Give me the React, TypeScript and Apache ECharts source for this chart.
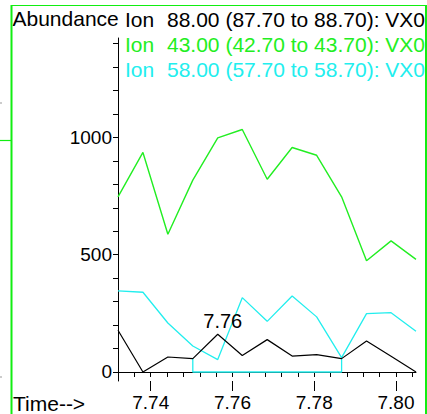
import React, { useEffect, useRef } from 'react';
import * as echarts from 'echarts';

const times = [7.7320, 7.7381, 7.7442, 7.7503, 7.7564, 7.7624, 7.7685, 7.7746, 7.7806, 7.7867, 7.7928, 7.7988, 7.8049];
const ion88 = [178, 0, 64, 57, 161, 70, 138, 68, 74, 57, 132, 67, 0];
const ion43 = [747, 936, 587, 818, 998, 1034, 822, 957, 924, 747, 474, 559, 480];
const ion58 = [346, 340, 209, 111, 53, 317, 216, 324, 235, 61, 249, 253, 174];

const baselineTimes = [7.7503, 7.7503, 7.7867, 7.7867];
const baselineValues = [57, 0, 0, 57];

const peakTime = 7.7564;
const peakValue = 161;
const peakLabel = '7.76';

const xLabelValues = [7.74, 7.76, 7.78, 7.80];
const xMinorTicks = [7.732, 7.736, 7.740, 7.744, 7.748, 7.752, 7.756, 7.760, 7.764, 7.768, 7.772, 7.776, 7.780, 7.784, 7.788, 7.792, 7.796, 7.800, 7.804];
const yLabelValues = [0, 500, 1000];
const yTicks = [0, 100, 200, 300, 400, 500, 600, 700, 800, 900, 1000, 1100, 1200, 1300, 1400];

const legendNames = ['88.00 (87.70 to 88.70): VX0', '43.00 (42.70 to 43.70): VX0', '58.00 (57.70 to 58.70): VX0'];

const BLACK = '#000000';
const GREEN = '#22ee22';
const CYAN = '#22eeee';
const FONT = '"Liberation Sans", Arial, sans-serif';

export default function App() {
  const ref = useRef<HTMLDivElement>(null);
  useEffect(() => {
    const chart = echarts.init(ref.current!, null, { renderer: 'svg' });
    const pairs = (vals: number[]) => times.map((t, i) => [t, vals[i]]);
    const legendColors = [BLACK, GREEN, CYAN];
    const legendY = [19.5, 44.5, 69];
    const thin = { stroke: '#11ee11', lineWidth: 1.2 };
    const thick = { stroke: '#11ee11', lineWidth: 2 };
    const graphics: any[] = [
      { type: 'line', z: 100, shape: { x1: 11.5, y1: 5.5, x2: 426, y2: 5.5 }, style: thin },
      { type: 'line', z: 100, shape: { x1: 11.5, y1: 5, x2: 11.5, y2: 414 }, style: thick },
      { type: 'line', z: 100, shape: { x1: 426, y1: 5, x2: 426, y2: 414 }, style: thick },
      { type: 'line', z: 100, shape: { x1: 0, y1: 140.5, x2: 11, y2: 140.5 }, style: thin },
      { type: 'rect', shape: { x: 0, y: 102.5, width: 2, height: 1 }, style: { fill: '#999' } },
      { type: 'rect', shape: { x: 0, y: 376.5, width: 2, height: 1 }, style: { fill: '#999' } },
      { type: 'text', style: { text: 'Abundance', x: 12.5, y: 18, fill: BLACK, fontSize: 21, fontFamily: FONT, verticalAlign: 'middle', align: 'left' } },
      { type: 'text', style: { text: 'Time-->', x: 13, y: 403, fill: BLACK, fontSize: 21, fontFamily: FONT, verticalAlign: 'middle', align: 'left' } },
    ];
    legendNames.forEach((name, i) => {
      graphics.push({ type: 'text', style: { text: 'Ion', x: 125, y: legendY[i], fill: legendColors[i], fontSize: 21, fontFamily: FONT, verticalAlign: 'middle', align: 'left' } });
      graphics.push({ type: 'text', style: { text: name, x: 167, y: legendY[i], fill: legendColors[i], fontSize: 21, fontFamily: FONT, verticalAlign: 'middle', align: 'left' } });
    });

    chart.setOption({
      animation: false,
      backgroundColor: '#ffffff',
      grid: { left: 118, right: 11, top: 38, bottom: 33, containLabel: false },
      xAxis: [
        {
          type: 'value', min: 7.732, max: 7.8049,
          axisLine: { show: true, lineStyle: { color: BLACK, width: 1 } },
          axisTick: { show: true, length: 5, customValues: xMinorTicks, lineStyle: { color: BLACK } },
          axisLabel: { show: true, customValues: xLabelValues, margin: 12, color: BLACK, fontSize: 19, fontFamily: FONT, formatter: (v: number) => v.toFixed(2) },
          splitLine: { show: false },
        },
        {
          type: 'value', min: 7.732, max: 7.8049, position: 'bottom',
          axisLine: { show: false },
          axisTick: { show: true, length: 10, customValues: xLabelValues, lineStyle: { color: BLACK } },
          axisLabel: { show: false },
          splitLine: { show: false },
        },
      ],
      yAxis: {
        type: 'value', min: -38.4, max: 1424,
        axisLine: { show: true, lineStyle: { color: BLACK, width: 1 } },
        axisTick: { show: true, length: 5, customValues: yTicks, lineStyle: { color: BLACK } },
        axisLabel: { show: true, customValues: yLabelValues, margin: 6, color: BLACK, fontSize: 19, fontFamily: FONT, formatter: (v: number) => String(Math.round(v)) },
        splitLine: { show: false },
      },
      series: [
        { type: 'line', name: 'Ion 88.00', data: pairs(ion88), showSymbol: false, lineStyle: { color: BLACK, width: 1.2 }, z: 5,
          markPoint: { symbol: 'circle', symbolSize: 0, data: [{ coord: [peakTime, peakValue], value: peakLabel }],
            label: { show: true, position: 'inside', offset: [5, -13], color: BLACK, fontSize: 20, fontFamily: FONT, formatter: peakLabel } } },
        { type: 'line', name: 'Ion 43.00', data: pairs(ion43), showSymbol: false, lineStyle: { color: GREEN, width: 1.4 }, z: 3 },
        { type: 'line', name: 'Ion 58.00', data: pairs(ion58), showSymbol: false, lineStyle: { color: CYAN, width: 1.3 }, z: 4 },
        { type: 'line', name: 'baseline', data: baselineTimes.map((t, i) => [t, baselineValues[i]]), showSymbol: false, lineStyle: { color: CYAN, width: 1.3 }, z: 4 },
      ],
      graphic: graphics,
    });
    return () => chart.dispose();
  }, []);
  return <div ref={ref} style={{ position: 'fixed', left: 0, top: 0, width: 427, height: 414, background: '#fff' }} />;
}
